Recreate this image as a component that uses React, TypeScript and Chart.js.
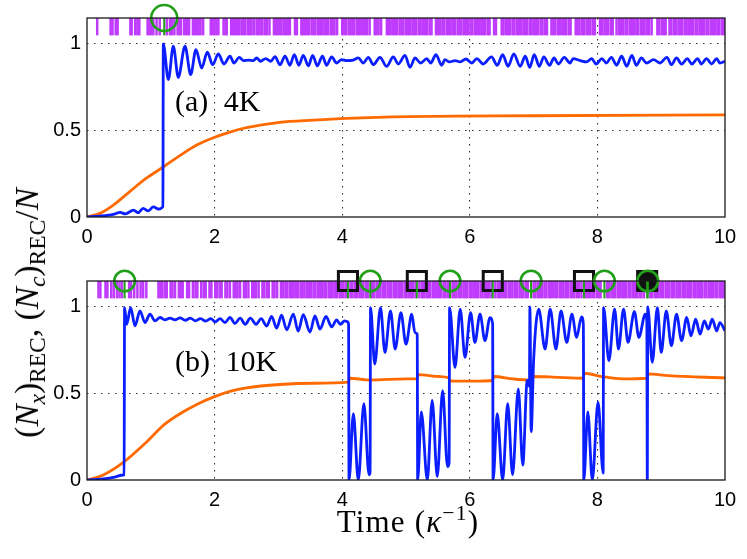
import React, { useEffect, useRef } from "react";
import { Chart, registerables } from "chart.js";

Chart.register(...registerables);

// ---------- axes ----------
const X_TICKS = [0, 2, 4, 6, 8, 10];
const Y_TICKS = [0, 0.5, 1];
const Y_MAX = 1.15;
const BAND_MID = 1.1; // centre of the event-tick band (1.05 .. 1.15)
const MARK_Y = 1.15;

// ---------- panel (a) 4K ----------
const blueA: [number, number][] = [
  [0, 0], [0.2, 0.005], [0.41, 0.015], [0.52, 0.027], [0.6, 0.018], [0.73, 0.04], [0.8, 0.025], [0.88, 0.05],
  [0.96, 0.035], [1.04, 0.058], [1.12, 0.046], [1.19, 0.06], [1.196, 1.0], [1.275, 0.794], [1.353, 0.987],
  [1.431, 0.807], [1.536, 0.987], [1.625, 0.823], [1.708, 0.967], [1.797, 0.861], [1.886, 0.952], [1.97, 0.88],
  [2.058, 0.942], [2.147, 0.884], [2.241, 0.929], [2.304, 0.89], [2.387, 0.923], [2.45, 0.904], [2.53, 0.907],
  [2.607, 0.904], [2.659, 0.919], [2.72, 0.9], [2.8, 0.915], [2.88, 0.9], [2.947, 0.927], [3.025, 0.88],
  [3.104, 0.93], [3.18, 0.877], [3.25, 0.938], [3.32, 0.877], [3.39, 0.934], [3.47, 0.873], [3.537, 0.934],
  [3.61, 0.873], [3.69, 0.929], [3.756, 0.877], [3.835, 0.925], [3.913, 0.89], [3.991, 0.91], [4.07, 0.904],
  [4.174, 0.907], [4.253, 0.919], [4.331, 0.89], [4.41, 0.923], [4.488, 0.88], [4.592, 0.923], [4.697, 0.871],
  [4.801, 0.925], [4.88, 0.884], [4.984, 0.934], [5.063, 0.865], [5.141, 0.919], [5.23, 0.89], [5.324, 0.915],
  [5.387, 0.89], [5.47, 0.938], [5.56, 0.877], [5.61, 0.91], [5.68, 0.896], [5.77, 0.904], [5.85, 0.896],
  [5.94, 0.913], [6.03, 0.89], [6.11, 0.915], [6.21, 0.884], [6.34, 0.925], [6.43, 0.877], [6.515, 0.938],
  [6.6, 0.871], [6.69, 0.942], [6.79, 0.871], [6.87, 0.929], [6.94, 0.865], [7.01, 0.938], [7.09, 0.871],
  [7.16, 0.925], [7.25, 0.877], [7.32, 0.919], [7.39, 0.884], [7.48, 0.923], [7.57, 0.89], [7.62, 0.915],
  [7.73, 0.904], [7.83, 0.896], [7.91, 0.915], [7.98, 0.884], [8.07, 0.915], [8.14, 0.89], [8.22, 0.923],
  [8.3, 0.877], [8.38, 0.929], [8.46, 0.871], [8.54, 0.934], [8.61, 0.877], [8.69, 0.919], [8.77, 0.89],
  [8.88, 0.91], [8.98, 0.89], [9.09, 0.923], [9.16, 0.88], [9.24, 0.919], [9.32, 0.884], [9.41, 0.915],
  [9.48, 0.884], [9.57, 0.915], [9.63, 0.884], [9.71, 0.915], [9.79, 0.884], [9.87, 0.915], [9.92, 0.89],
  [10.0, 0.9],
];

const orangeA: [number, number][] = [
  [0, 0], [0.204, 0.021], [0.413, 0.069], [0.67, 0.147], [0.93, 0.224], [1.196, 0.289], [1.46, 0.356],
  [1.72, 0.416], [1.98, 0.458], [2.24, 0.491], [2.5, 0.516], [3.02, 0.547], [3.55, 0.56], [4.07, 0.57],
  [5.06, 0.58], [7.0, 0.585], [10.0, 0.59],
];

const eventsA: number[] = [
  0.16, 0.37, 0.4, 0.45, 0.48, 0.68, 0.7, 0.755, 0.79, 0.82, 0.95, 0.98, 1.01, 1.04, 1.09, 1.14, 1.25, 1.3, 1.33,
  1.37, 1.42, 1.45, 1.47, 1.52, 1.55, 1.58, 1.6, 1.66, 1.69, 1.72, 1.75, 1.78, 1.82, 1.94, 1.97, 2.0, 2.03, 2.06,
  2.14, 2.17, 2.19, 2.26, 2.29, 2.32, 2.35, 2.38, 2.42, 2.45, 2.48, 2.52, 2.55, 2.58, 2.62, 2.66, 2.69, 2.72, 2.75,
  2.79, 2.82, 2.86, 2.93, 2.96, 2.99, 3.02, 3.05, 3.09, 3.12, 3.15, 3.18, 3.26, 3.29, 3.36, 3.39, 3.42, 3.45, 3.48,
  3.52, 3.55, 3.58, 3.62, 3.65, 3.68, 3.72, 3.75, 3.78, 3.82, 3.85, 3.88, 3.92, 4.0, 4.03, 4.06, 4.1, 4.13, 4.16,
  4.19, 4.23, 4.26, 4.29, 4.33, 4.36, 4.39, 4.43, 4.51, 4.54, 4.57, 4.61, 4.7, 4.73, 4.76, 4.8, 4.83, 4.86, 4.9,
  4.93, 4.96, 5.0, 5.03, 5.06, 5.1, 5.13, 5.16, 5.2, 5.23, 5.27, 5.3, 5.33, 5.37, 5.4, 5.47, 5.5, 5.53, 5.57, 5.6,
  5.64, 5.67, 5.7, 5.74, 5.77, 5.81, 5.84, 5.87, 5.91, 5.94, 5.97, 6.01, 6.04, 6.08, 6.11, 6.14, 6.18, 6.21, 6.24,
  6.28, 6.31, 6.38, 6.41, 6.5, 6.53, 6.57, 6.6, 6.63, 6.67, 6.7, 6.74, 6.77, 6.8, 6.84, 6.87, 6.9, 6.94, 6.97, 7.01,
  7.04, 7.07, 7.11, 7.14, 7.18, 7.21, 7.28, 7.31, 7.34, 7.38, 7.41, 7.45, 7.48, 7.51, 7.55, 7.58, 7.66, 7.69, 7.72,
  7.76, 7.79, 7.83, 7.86, 7.89, 7.93, 7.96, 8.04, 8.07, 8.11, 8.14, 8.17, 8.21, 8.24, 8.3, 8.34, 8.37, 8.4, 8.44,
  8.47, 8.51, 8.54, 8.57, 8.61, 8.64, 8.68, 8.71, 8.74, 8.78, 8.81, 8.85, 8.94, 8.97, 9.01, 9.04, 9.07, 9.13, 9.16,
  9.2, 9.23, 9.27, 9.3, 9.33, 9.37, 9.4, 9.44, 9.47, 9.5, 9.54, 9.57, 9.61, 9.64, 9.67, 9.71, 9.74, 9.78, 9.81,
  9.84, 9.88, 9.91, 9.95, 9.98,
];
const circlesA: number[] = [1.21];
const squaresA: number[] = [];

// ---------- panel (b) 10K ----------
const blueB: [number, number][] = [
  [0, 0], [0.25, 0.006], [0.41, 0.015], [0.57, 0.029], [0.582, 0.03], [0.589, 0.996], [0.622, 0.9],
  [0.684, 0.996], [0.752, 0.891], [0.83, 0.977], [0.909, 0.91], [0.987, 0.958], [1.066, 0.92], [1.144, 0.939],
  [1.22, 0.925], [1.3, 0.935], [1.38, 0.925], [1.46, 0.937], [1.54, 0.923], [1.62, 0.935], [1.7, 0.92],
  [1.78, 0.933], [1.86, 0.918], [1.94, 0.932], [2.01, 0.914], [2.085, 0.932], [2.163, 0.91], [2.241, 0.939],
  [2.32, 0.905], [2.4, 0.935], [2.48, 0.9], [2.56, 0.935], [2.65, 0.9], [2.73, 0.932], [2.816, 0.89],
  [2.894, 0.945], [2.973, 0.878], [3.05, 0.952], [3.13, 0.868], [3.234, 0.958], [3.31, 0.86], [3.39, 0.955],
  [3.495, 0.855], [3.573, 0.948], [3.652, 0.872], [3.746, 0.945], [3.835, 0.885], [3.913, 0.925], [3.97, 0.9],
  [4.04, 0.92], [4.08, 0.915], [4.1, 0.9], [4.107, 0.0], [4.175, 0.383], [4.252, 0.0], [4.34, 0.441],
  [4.42, 0.03], [4.437, 0.045], [4.444, 0.996], [4.51, 0.67], [4.6, 0.996], [4.67, 0.737], [4.757, 0.977],
  [4.83, 0.757], [4.92, 0.967], [5.0, 0.785], [5.09, 0.958], [5.14, 0.852], [5.176, 0.843], [5.183, 0.0],
  [5.24, 0.393], [5.334, 0.0], [5.41, 0.46], [5.49, 0.02], [5.574, 0.517], [5.65, 0.077], [5.676, 0.1],
  [5.683, 0.996], [5.768, 0.651], [5.85, 0.987], [5.925, 0.709], [6.013, 0.967], [6.08, 0.795], [6.16, 0.958],
  [6.238, 0.805], [6.316, 0.938], [6.358, 0.9], [6.365, 0.0], [6.43, 0.383], [6.515, 0.0], [6.594, 0.441],
  [6.67, 0.03], [6.76, 0.526], [6.83, 0.086], [6.9, 0.575], [6.935, 0.54], [6.942, 1.0], [6.962, 0.28],
  [7.0, 0.69], [7.08, 0.987], [7.18, 0.757], [7.26, 0.987], [7.35, 0.757], [7.43, 0.977], [7.52, 0.795],
  [7.6, 0.958], [7.675, 0.824], [7.75, 0.943], [7.78, 0.9], [7.787, 0.0], [7.85, 0.393], [7.92, 0.0],
  [8.01, 0.45], [8.09, 0.04], [8.097, 0.996], [8.18, 0.69], [8.27, 0.987], [8.33, 0.757], [8.41, 0.987],
  [8.48, 0.795], [8.58, 0.973], [8.65, 0.824], [8.75, 0.958], [8.775, 0.92], [8.782, 0.0], [8.789, 1.0],
  [8.86, 0.68], [8.94, 0.996], [9.0, 0.737], [9.08, 0.977], [9.16, 0.776], [9.24, 0.958], [9.32, 0.805],
  [9.4, 0.939], [9.467, 0.833], [9.54, 0.929], [9.61, 0.843], [9.675, 0.92], [9.74, 0.872], [9.8, 0.929],
  [9.87, 0.862], [9.92, 0.91], [10.0, 0.862],
];

const orangeB: [number, number][] = [
  [0, 0], [0.255, 0.029], [0.585, 0.106], [0.935, 0.22], [1.196, 0.316], [1.457, 0.383], [1.72, 0.437],
  [1.98, 0.479], [2.24, 0.512], [2.5, 0.533], [3.02, 0.552], [3.55, 0.559], [4.1, 0.565], [4.11, 0.588],
  [4.44, 0.578], [5.01, 0.584], [5.175, 0.584], [5.185, 0.609], [5.53, 0.598], [5.675, 0.59], [5.685, 0.571],
  [6.05, 0.571], [6.36, 0.575], [6.37, 0.598], [6.68, 0.584], [6.94, 0.578], [6.95, 0.598], [7.3, 0.595],
  [7.78, 0.588], [7.79, 0.617], [8.07, 0.598], [8.38, 0.584], [8.78, 0.588], [8.79, 0.613], [9.11, 0.603],
  [10.0, 0.59],
];

const eventsB: number[] = [
  0.18, 0.21, 0.29, 0.32, 0.38, 0.42, 0.47, 0.51, 0.55, 0.66, 0.69, 0.74, 0.79, 0.84, 0.88, 0.93, 1.12, 1.15,
  1.18, 1.22, 1.25, 1.31, 1.34, 1.38, 1.44, 1.47, 1.5, 1.57, 1.6, 1.66, 1.7, 1.73, 1.79, 1.83, 1.86, 1.92, 1.95,
  2.01, 2.04, 2.08, 2.11, 2.17, 2.2, 2.24, 2.3, 2.33, 2.36, 2.4, 2.46, 2.49, 2.53, 2.59, 2.62, 2.65, 2.69, 2.75,
  2.78, 2.82, 2.85, 2.91, 2.94, 2.98, 3.04, 3.07, 3.11, 3.14, 3.18, 3.21, 3.24, 3.28, 3.31, 3.35, 3.38, 3.41,
  3.45, 3.48, 3.51, 3.55, 3.58, 3.62, 3.65, 3.68, 3.72, 3.75, 3.79, 3.82, 3.85, 3.89, 3.92, 3.96, 3.99, 4.02,
  4.06, 4.13, 4.16, 4.2, 4.23, 4.27, 4.3, 4.33, 4.37, 4.4, 4.47, 4.5, 4.54, 4.57, 4.6, 4.64, 4.67, 4.71, 4.74,
  4.77, 4.81, 4.84, 4.88, 4.91, 4.94, 4.98, 5.01, 5.05, 5.08, 5.11, 5.15, 5.21, 5.25, 5.28, 5.32, 5.35, 5.38,
  5.42, 5.45, 5.49, 5.52, 5.55, 5.59, 5.62, 5.66, 5.73, 5.76, 5.79, 5.83, 5.86, 5.9, 5.93, 5.96, 6.0, 6.03,
  6.07, 6.1, 6.13, 6.17, 6.2, 6.24, 6.27, 6.3, 6.34, 6.4, 6.44, 6.47, 6.5, 6.54, 6.57, 6.61, 6.64, 6.67, 6.71,
  6.74, 6.78, 6.81, 6.84, 6.88, 6.91, 7.0, 7.03, 7.07, 7.1, 7.13, 7.17, 7.2, 7.24, 7.27, 7.3, 7.34, 7.37, 7.41,
  7.44, 7.47, 7.51, 7.54, 7.58, 7.61, 7.64, 7.68, 7.71, 7.75, 7.82, 7.85, 7.88, 7.92, 7.95, 7.99, 8.02, 8.05,
  8.15, 8.18, 8.22, 8.25, 8.28, 8.32, 8.35, 8.39, 8.42, 8.45, 8.49, 8.52, 8.56, 8.59, 8.62, 8.66, 8.69, 8.73,
  8.83, 8.86, 8.9, 8.93, 8.96, 9.0, 9.03, 9.07, 9.1, 9.13, 9.17, 9.2, 9.24, 9.27, 9.3, 9.34, 9.37, 9.41, 9.44,
  9.47, 9.51, 9.54, 9.58, 9.61, 9.64, 9.68, 9.71, 9.75, 9.78, 9.81, 9.85, 9.88, 9.92, 9.95, 9.98,
];
const circlesB: number[] = [0.59, 4.44, 5.69, 6.96, 8.11, 8.79];
const squaresB: number[] = [4.09, 5.17, 6.36, 7.79, 8.78];
const squaresBFilled: boolean[] = [false, false, false, false, true];

// ---------- styles ----------
const BLUE = "#0a1eff";
const ORANGE = "#ff6a00";
const MAGENTA = "#bf3cff";
const GREEN = "#22a01a";
const SANS = '"Liberation Sans", Arial, sans-serif';
const SERIF = '"Liberation Serif", "Times New Roman", serif';

const boxPlugin = {
  id: "box",
  afterDatasetsDraw(chart: any) {
    const { ctx, chartArea: a } = chart;
    ctx.save();
    ctx.strokeStyle = "#1a1a1a";
    ctx.lineWidth = 1.3;
    ctx.strokeRect(a.left, a.top, a.right - a.left, a.bottom - a.top);
    ctx.restore();
  },
};

function buildDatasets(
  blue: [number, number][],
  orange: [number, number][],
  events: number[],
  circles: number[],
  circleR: number,
  squares: number[],
  squaresFilled: boolean[]
) {
  const pts = (arr: [number, number][]) => arr.map(([x, y]) => ({ x, y }));
  const stems = [...circles, ...squares];
  return [
    {
      data: circles.map((t) => ({ x: t, y: MARK_Y })),
      pointStyle: "circle",
      pointRadius: circleR,
      pointBorderWidth: 2.6,
      pointBorderColor: GREEN,
      pointBackgroundColor: "rgba(0,0,0,0)",
      clip: false,
    },
    {
      data: stems.map((t) => ({ x: t, y: BAND_MID })),
      pointStyle: "line",
      pointRotation: 90,
      pointRadius: 8.7,
      pointBorderWidth: 2,
      pointBorderColor: GREEN,
    },
    {
      data: squares.map((t) => ({ x: t, y: MARK_Y })),
      pointStyle: "rect",
      pointRadius: 13.5,
      pointBorderWidth: 3,
      pointBorderColor: "#111",
      pointBackgroundColor: squaresFilled.map((f) => (f ? "#111" : "rgba(0,0,0,0)")),
      clip: false,
    },
    {
      data: pts(blue),
      showLine: true,
      borderColor: BLUE,
      borderWidth: 2.8,
      pointRadius: 0,
      cubicInterpolationMode: "monotone",
    },
    {
      data: pts(orange),
      showLine: true,
      borderColor: ORANGE,
      borderWidth: 2.8,
      pointRadius: 0,
      cubicInterpolationMode: "monotone",
    },
    {
      data: events.map((t) => ({ x: t, y: BAND_MID })),
      pointStyle: "line",
      pointRotation: 90,
      pointRadius: 8.7,
      pointBorderWidth: 2.5,
      pointBorderColor: MAGENTA,
    },
  ];
}

function buildOptions(padTop: number, xAxisH: number): any {
  return {
    animation: false,
    responsive: true,
    maintainAspectRatio: false,
    events: [],
    layout: { padding: { left: 0, top: padTop, right: 22, bottom: 0 } },
    plugins: { legend: { display: false }, tooltip: { enabled: false } },
    scales: {
      x: {
        type: "linear",
        min: 0,
        max: 10,
        afterBuildTicks: (s: any) => {
          s.ticks = X_TICKS.map((v) => ({ value: v }));
        },
        afterFit: (s: any) => {
          s.height = xAxisH;
        },
        ticks: {
          color: "#000",
          font: { family: SANS, size: 20 },
          padding: 8,
          maxRotation: 0,
          autoSkip: false,
          callback: (v: any) => String(v),
        },
        grid: {
          drawTicks: false,
          lineWidth: 1.1,
          color: (c: any) => (c.tick && (c.tick.value === 0 || c.tick.value === 10) ? "rgba(0,0,0,0)" : "#333"),
        },
        border: { display: false, dash: [1.5, 5.5] },
      },
      y: {
        type: "linear",
        min: 0,
        max: Y_MAX,
        afterBuildTicks: (s: any) => {
          s.ticks = Y_TICKS.map((v) => ({ value: v }));
        },
        afterFit: (s: any) => {
          s.width = 87;
        },
        ticks: {
          color: "#000",
          font: { family: SANS, size: 20 },
          padding: 6,
          callback: (v: any) => String(v),
        },
        grid: {
          drawTicks: false,
          lineWidth: 1.1,
          color: (c: any) => (c.tick && c.tick.value === 0 ? "rgba(0,0,0,0)" : "#333"),
        },
        border: { display: false, dash: [1.5, 5.5] },
      },
    },
  };
}

function Panel(props: {
  top: number;
  height: number;
  padTop: number;
  xAxisH: number;
  blue: [number, number][];
  orange: [number, number][];
  events: number[];
  circles: number[];
  circleR: number;
  squares: number[];
  squaresFilled: boolean[];
}) {
  const ref = useRef<HTMLCanvasElement>(null);
  useEffect(() => {
    const chart = new Chart(ref.current as HTMLCanvasElement, {
      type: "scatter",
      data: {
        datasets: buildDatasets(
          props.blue,
          props.orange,
          props.events,
          props.circles,
          props.circleR,
          props.squares,
          props.squaresFilled
        ) as any,
      },
      options: buildOptions(props.padTop, props.xAxisH),
      plugins: [boxPlugin],
    });
    return () => chart.destroy();
  }, []);
  return (
    <div style={{ position: "absolute", left: 0, top: props.top, width: 747, height: props.height }}>
      <canvas ref={ref} />
    </div>
  );
}

const subStyle: React.CSSProperties = { fontSize: "0.7em", verticalAlign: "-0.3em", lineHeight: 0 };

export default function App() {
  return (
    <div
      style={{
        position: "absolute",
        left: 0,
        top: 0,
        width: 747,
        height: 559,
        background: "#fff",
        overflow: "hidden",
        fontFamily: SERIF,
        color: "#000",
      }}
    >
      <Panel
        top={0}
        height={250}
        padTop={18}
        xAxisH={33}
        blue={blueA}
        orange={orangeA}
        events={eventsA}
        circles={circlesA}
        circleR={13}
        squares={squaresA}
        squaresFilled={[]}
      />
      <Panel
        top={250}
        height={309}
        padTop={31}
        xAxisH={79}
        blue={blueB}
        orange={orangeB}
        events={eventsB}
        circles={circlesB}
        circleR={10.3}
        squares={squaresB}
        squaresFilled={squaresBFilled}
      />
      <div style={{ position: "absolute", left: 175, top: 86, fontSize: 30, lineHeight: "30px", whiteSpace: "nowrap", wordSpacing: 8 }}>
        (a) 4K
      </div>
      <div style={{ position: "absolute", left: 175, top: 346, fontSize: 30, lineHeight: "30px", whiteSpace: "nowrap", wordSpacing: 8 }}>
        (b) 10K
      </div>
      <div
        style={{
          position: "absolute",
          left: 408,
          top: 506,
          transform: "translateX(-50%)",
          fontSize: 31,
          lineHeight: "32px",
          letterSpacing: 1.2,
          whiteSpace: "nowrap",
        }}
      >
        Time (<i>κ</i>
        <sup style={{ fontSize: "0.7em", verticalAlign: "0.55em", lineHeight: 0 }}>−1</sup>)
      </div>
      <div
        style={{
          position: "absolute",
          left: 27,
          top: 313,
          transform: "translate(-50%, -50%) rotate(-90deg)",
          fontSize: 33.5,
          lineHeight: "34px",
          whiteSpace: "nowrap",
        }}
      >
        (<i>N</i>
        <sub style={subStyle}>
          <i>x</i>
        </sub>
        )<sub style={subStyle}>REC</sub>, (<i>N</i>
        <sub style={subStyle}>
          <i>c</i>
        </sub>
        )<sub style={subStyle}>REC</sub>/<i>N</i>
      </div>
    </div>
  );
}
